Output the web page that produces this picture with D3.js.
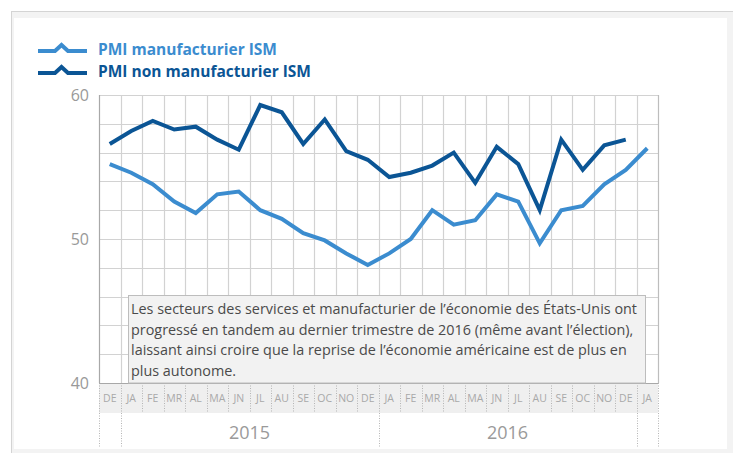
<!DOCTYPE html>
<html>
<head>
<meta charset="utf-8">
<script src="https://cdn.jsdelivr.net/npm/d3@7"></script>
<style>
  body { margin: 0; background: #fff; }
  svg { display: block; font-family: "Open Sans", "Noto Sans", sans-serif; }
</style>
</head>
<body>
<svg id="chart" width="733" height="453"></svg>
<script>
// mois (DE 2014 -> JA 2017)
const months = ["DE", "JA", "FE", "MR", "AL", "MA", "JN", "JL", "AU", "SE", "OC", "NO",
                "DE", "JA", "FE", "MR", "AL", "MA", "JN", "JL", "AU", "SE", "OC", "NO",
                "DE", "JA"];
const years = [{ label: "2015", from: 1, to: 12 }, { label: "2016", from: 13, to: 24 }];

const manufacturier = [55.2, 54.6, 53.8, 52.6, 51.8, 53.1, 53.3, 52.0, 51.4, 50.4, 49.9, 49.0,
                       48.2, 49.0, 50.0, 52.0, 51.0, 51.3, 53.1, 52.6, 49.7, 52.0, 52.3, 53.8,
                       54.8, 56.3];
const nonManufacturier = [56.6, 57.5, 58.2, 57.6, 57.8, 56.9, 56.2, 59.3, 58.8, 56.6, 58.3, 56.1,
                          55.5, 54.3, 54.6, 55.1, 56.0, 53.9, 56.4, 55.2, 52.0, 56.9, 54.8, 56.5,
                          56.9];

const yTicks = [40, 50, 60];
const legendItems = [
  { name: "PMI manufacturier ISM", color: "#3b8ccf" },
  { name: "PMI non manufacturier ISM", color: "#0b5595" }
];
const note = [
  "Les secteurs des services et manufacturier de l’économie des États-Unis ont",
  "progressé en tandem au dernier trimestre de 2016 (même avant l’élection),",
  "laissant ainsi croire que la reprise de l’économie américaine est de plus en",
  "plus autonome."
];

const svg = d3.select("#chart");

// cadre
svg.append("rect").attr("x", 11.5).attr("y", 11.5).attr("width", 740).attr("height", 460)
  .attr("fill", "#f3f3f3").attr("stroke", "#d4d4d4");
svg.append("rect").attr("x", 14).attr("y", 18).attr("width", 713).attr("height", 431)
  .attr("fill", "#fff");

const margin = { left: 99, top: 95, right: 658, bottom: 383 };

const x = d3.scaleBand()
  .domain(d3.range(months.length))
  .range([margin.left, margin.right]);

const y = d3.scaleLinear()
  .domain([40, 60])
  .range([margin.bottom, margin.top]);

// grille
const grid = svg.append("g");
grid.selectAll("line.h")
  .data(d3.range(42, 61, 2))
  .join("line")
    .attr("x1", margin.left).attr("x2", margin.right)
    .attr("y1", d => Math.round(y(d)) + 0.5).attr("y2", d => Math.round(y(d)) + 0.5)
    .attr("stroke", "#d2d2d2").attr("stroke-width", 1.2);
grid.selectAll("line.v")
  .data(d3.range(1, months.length + 1))
  .join("line")
    .attr("x1", d => Math.round(x(d) || margin.right) + 0.5)
    .attr("x2", d => Math.round(x(d) || margin.right) + 0.5)
    .attr("y1", margin.top).attr("y2", margin.bottom)
    .attr("stroke", d => d === months.length ? "#bdbdbd" : "#d2d2d2").attr("stroke-width", 1.2);

// axe gauche et bas
svg.append("line")
  .attr("x1", margin.left + 0.5).attr("x2", margin.left + 0.5)
  .attr("y1", margin.top).attr("y2", margin.bottom)
  .attr("stroke", "#a8a8a8").attr("stroke-width", 1.2);

// bande des mois
svg.append("rect")
  .attr("x", margin.left).attr("y", margin.bottom)
  .attr("width", margin.right - margin.left).attr("height", 30)
  .attr("fill", "#efefef");

const seps = d3.range(months.length + 1);
const yearEdges = [0, 1, 13, 25, 26];
svg.append("g").selectAll("line")
  .data(seps)
  .join("line")
    .attr("x1", d => Math.round(margin.left + d * x.bandwidth()) + 0.5)
    .attr("x2", d => Math.round(margin.left + d * x.bandwidth()) + 0.5)
    .attr("y1", margin.bottom)
    .attr("y2", d => yearEdges.includes(d) ? 447 : margin.bottom + 30)
    .attr("stroke", "#b5b5b5")
    .attr("stroke-dasharray", "1,1.5");

svg.append("line")
  .attr("x1", margin.left).attr("x2", margin.right)
  .attr("y1", margin.bottom + 0.5).attr("y2", margin.bottom + 0.5)
  .attr("stroke", "#a8a8a8").attr("stroke-width", 1.2);

svg.append("g").selectAll("text")
  .data(months)
  .join("text")
    .attr("x", (d, i) => x(i) + x.bandwidth() / 2)
    .attr("y", 402)
    .attr("text-anchor", "middle")
    .attr("font-size", 10.5)
    .attr("fill", "#a9a9a9")
    .text(d => d);

svg.append("g").selectAll("text")
  .data(years)
  .join("text")
    .attr("x", d => (x(d.from) + x(d.to) + x.bandwidth()) / 2)
    .attr("y", 439)
    .attr("text-anchor", "middle")
    .attr("font-size", 18)
    .attr("fill", "#9a9a9a")
    .text(d => d.label);

// graduations Y
svg.append("g").selectAll("text")
  .data(yTicks)
  .join("text")
    .attr("x", 89)
    .attr("y", d => y(d) + 6)
    .attr("text-anchor", "end")
    .attr("font-size", 16)
    .attr("fill", "#999")
    .text(d => d);

// courbes
const line = d3.line()
  .x((d, i) => x(i) + x.bandwidth() / 2)
  .y(d => y(d));

[manufacturier, nonManufacturier].forEach((serie, k) => {
  svg.append("path")
    .datum(serie)
    .attr("d", line)
    .attr("fill", "none")
    .attr("stroke", legendItems[k].color)
    .attr("stroke-width", 4)
    .attr("stroke-linejoin", "miter");
});

// encadré
svg.append("rect")
  .attr("x", 128.5).attr("y", 295.5)
  .attr("width", 517).attr("height", margin.bottom - 295.5)
  .attr("fill", "#f2f2f2")
  .attr("stroke", "#bdbdbd");

const noteG = svg.append("g");
const noteTexts = noteG.selectAll("text")
  .data(note)
  .join("text")
    .attr("x", 131)
    .attr("y", (d, i) => 314 + i * 20.5)
    .attr("font-size", 15)
    .attr("fill", "#4a4a4a")
    .text(d => d);

// resserrer le texte pour garder la largeur de l'original
const natural = noteTexts.nodes()[0].getComputedTextLength();
const k = 506 / natural;
noteTexts.each(function () {
  const w = this.getComputedTextLength();
  d3.select(this).attr("textLength", w * k).attr("lengthAdjust", "spacingAndGlyphs");
});

// légende
const legend = svg.append("g");
legendItems.forEach((d, i) => {
  const ly = 51 + i * 22;
  legend.append("path")
    .attr("d", `M38,${ly}H55L61.5,${ly - 6}L68,${ly}H87`)
    .attr("fill", "none")
    .attr("stroke", d.color)
    .attr("stroke-width", 4);
  legend.append("text")
    .attr("x", 98).attr("y", ly + 3.5)
    .attr("font-size", 15.5)
    .attr("font-weight", "bold")
    .attr("fill", d.color)
    .text(d.name);
});
</script>
</body>
</html>
